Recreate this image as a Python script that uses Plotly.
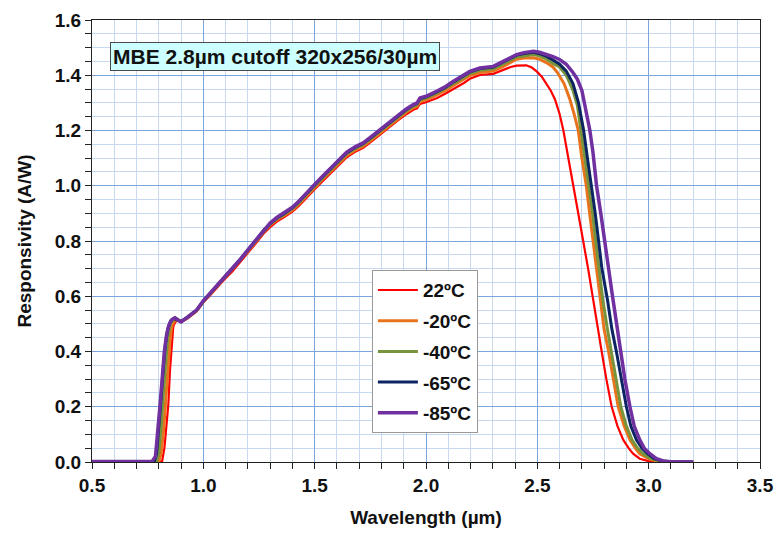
import plotly.graph_objects as go

# ---------------- data ----------------
series_names = ["22ºC", "-20ºC", "-40ºC", "-65ºC", "-85ºC"]
series_colors = ["#ff0000", "#e8731c", "#77933c", "#0c2461", "#7030a0"]

mid_wl = [0.93, 0.97, 1.00, 1.03, 1.06, 1.09, 1.13, 1.165, 1.20, 1.24, 1.27, 1.30, 1.33, 1.36,
          1.40, 1.43, 1.46, 1.50, 1.53, 1.57, 1.61, 1.644, 1.68, 1.718, 1.75, 1.793, 1.83,
          1.868, 1.91, 1.943, 1.96, 1.973, 2.00, 2.05, 2.09, 2.123, 2.17, 2.197, 2.242,
          2.302, 2.347, 2.38]

# 22ºC
wl_22 = [0.50, 0.60, 0.70, 0.80, 0.815, 0.825, 0.833, 0.843, 0.85, 0.858, 0.865, 0.875, 0.888, 0.90] + mid_wl + \
        [2.407, 2.45, 2.475, 2.497, 2.52, 2.542, 2.56, 2.579, 2.60, 2.617, 2.64, 2.661, 2.684, 2.706,
         2.728, 2.75, 2.77, 2.789, 2.81, 2.834, 2.86, 2.886, 2.91, 2.93, 2.96, 3.00, 3.05, 3.20]
r_22 = [0.002, 0.002, 0.0, 0.0, 0.003, 0.05, 0.12, 0.21, 0.33, 0.44, 0.49, 0.508, 0.512, 0.506] + \
       [0.52, 0.545, 0.578, 0.603, 0.632, 0.657, 0.69, 0.722, 0.757, 0.795, 0.826, 0.85, 0.87, 0.885,
        0.906, 0.928, 0.955, 0.987, 1.012, 1.043, 1.076, 1.103, 1.122, 1.137, 1.157, 1.185, 1.21,
        1.233, 1.258, 1.275, 1.28, 1.296, 1.302, 1.318, 1.335, 1.35, 1.372, 1.387, 1.401,
        1.405, 1.42, 1.43] + \
       [1.435, 1.436, 1.428, 1.414, 1.395, 1.37, 1.345, 1.313, 1.26, 1.20, 1.10, 1.00, 0.90, 0.80,
        0.70, 0.587, 0.49, 0.40, 0.30, 0.20, 0.13, 0.08, 0.05, 0.03, 0.012, 0.003, 0.001, 0.0]

# -20ºC
wl_m20 = [0.50, 0.60, 0.70, 0.80, 0.81, 0.82, 0.83, 0.84, 0.85, 0.858, 0.87, 0.885, 0.90] + mid_wl + \
         [2.407, 2.44, 2.482, 2.51, 2.542, 2.57, 2.59, 2.62, 2.646, 2.665, 2.684, 2.70, 2.72, 2.735,
          2.75, 2.765, 2.782, 2.80, 2.82, 2.842, 2.863, 2.89, 2.916, 2.94, 2.96, 3.00, 3.035, 3.10, 3.20]
r_m20 = [0.002, 0.002, 0.0, 0.002, 0.03, 0.10, 0.21, 0.33, 0.44, 0.49, 0.512, 0.515, 0.507] + \
        [0.523, 0.548, 0.58, 0.607, 0.636, 0.661, 0.696, 0.728, 0.763, 0.802, 0.833, 0.858, 0.877, 0.891,
         0.912, 0.934, 0.961, 0.994, 1.019, 1.05, 1.083, 1.11, 1.128, 1.143, 1.163, 1.191, 1.216,
         1.239, 1.265, 1.282, 1.288, 1.305, 1.311, 1.33, 1.346, 1.363, 1.385, 1.399, 1.41,
         1.415, 1.432, 1.447] + \
        [1.458, 1.462, 1.463, 1.458, 1.445, 1.43, 1.41, 1.37, 1.313, 1.26, 1.20, 1.10, 1.00, 0.90,
         0.80, 0.70, 0.587, 0.48, 0.40, 0.30, 0.20, 0.13, 0.08, 0.05, 0.03, 0.012, 0.003, 0.001, 0.0]

# -40ºC
wl_m40 = [0.50, 0.60, 0.70, 0.79, 0.80, 0.81, 0.82, 0.83, 0.84, 0.852, 0.866, 0.88, 0.893, 0.90] + mid_wl + \
         [2.407, 2.44, 2.482, 2.51, 2.542, 2.57, 2.60, 2.63, 2.66, 2.68, 2.696, 2.713, 2.732, 2.748,
          2.762, 2.778, 2.794, 2.815, 2.832, 2.855, 2.875, 2.90, 2.925, 2.95, 2.975, 3.01, 3.05, 3.10, 3.20]
r_m40 = [0.002, 0.002, 0.0, 0.002, 0.03, 0.12, 0.24, 0.36, 0.45, 0.50, 0.517, 0.518, 0.511, 0.508] + \
        [0.524, 0.549, 0.582, 0.609, 0.638, 0.663, 0.698, 0.731, 0.766, 0.805, 0.836, 0.861, 0.881, 0.895,
         0.917, 0.939, 0.966, 0.999, 1.024, 1.056, 1.089, 1.116, 1.134, 1.149, 1.169, 1.197, 1.222,
         1.245, 1.271, 1.288, 1.294, 1.311, 1.317, 1.336, 1.353, 1.37, 1.392, 1.406, 1.418,
         1.423, 1.441, 1.456] + \
        [1.466, 1.47, 1.475, 1.47, 1.458, 1.443, 1.43, 1.40, 1.345, 1.29, 1.20, 1.10, 1.00, 0.90,
         0.80, 0.70, 0.587, 0.48, 0.40, 0.30, 0.20, 0.13, 0.08, 0.05, 0.03, 0.012, 0.004, 0.001, 0.0]

# -65ºC
wl_m65 = [0.50, 0.60, 0.70, 0.78, 0.79, 0.80, 0.81, 0.82, 0.83, 0.84, 0.852, 0.868, 0.885, 0.90] + mid_wl + \
         [2.407, 2.44, 2.482, 2.51, 2.542, 2.57, 2.60, 2.63, 2.66, 2.685, 2.708, 2.725, 2.744, 2.76,
          2.775, 2.79, 2.815, 2.835, 2.855, 2.878, 2.90, 2.92, 2.945, 2.97, 2.995, 3.025, 3.06, 3.10, 3.20]
r_m65 = [0.002, 0.002, 0.0, 0.002, 0.03, 0.12, 0.23, 0.34, 0.43, 0.48, 0.51, 0.52, 0.514, 0.508] + \
        [0.525, 0.55, 0.583, 0.61, 0.639, 0.664, 0.699, 0.732, 0.767, 0.807, 0.838, 0.863, 0.883, 0.898,
         0.92, 0.943, 0.97, 1.003, 1.028, 1.06, 1.093, 1.12, 1.138, 1.153, 1.173, 1.201, 1.226,
         1.249, 1.275, 1.292, 1.298, 1.316, 1.322, 1.341, 1.358, 1.376, 1.398, 1.412, 1.424,
         1.43, 1.448, 1.463] + \
        [1.473, 1.479, 1.483, 1.478, 1.468, 1.455, 1.44, 1.415, 1.37, 1.30, 1.20, 1.10, 1.00, 0.90,
         0.80, 0.70, 0.587, 0.48, 0.40, 0.30, 0.20, 0.13, 0.08, 0.05, 0.03, 0.012, 0.004, 0.001, 0.0]

# -85ºC
wl_m85 = [0.50, 0.60, 0.70, 0.77, 0.785, 0.795, 0.805, 0.815, 0.825, 0.835, 0.845, 0.858, 0.873, 0.888, 0.90] + mid_wl + \
         [2.407, 2.44, 2.482, 2.51, 2.542, 2.57, 2.60, 2.63, 2.66, 2.68, 2.70, 2.72, 2.736, 2.75,
          2.766, 2.785, 2.804, 2.82, 2.834, 2.848, 2.87, 2.893, 2.916, 2.935, 2.96, 2.98, 3.005,
          3.035, 3.066, 3.10, 3.20]
r_m85 = [0.002, 0.002, 0.0, 0.002, 0.02, 0.10, 0.20, 0.30, 0.40, 0.46, 0.495, 0.515, 0.522, 0.513, 0.508] + \
        [0.525, 0.55, 0.583, 0.61, 0.64, 0.665, 0.70, 0.733, 0.768, 0.808, 0.84, 0.865, 0.885, 0.90,
         0.922, 0.945, 0.972, 1.005, 1.03, 1.062, 1.095, 1.122, 1.14, 1.155, 1.175, 1.203, 1.228,
         1.251, 1.277, 1.294, 1.30, 1.318, 1.324, 1.343, 1.36, 1.378, 1.40, 1.414, 1.426,
         1.432, 1.45, 1.465] + \
        [1.475, 1.482, 1.487, 1.483, 1.475, 1.467, 1.457, 1.44, 1.41, 1.385, 1.345, 1.27, 1.20, 1.12,
         1.00, 0.90, 0.80, 0.70, 0.62, 0.54, 0.41, 0.30, 0.20, 0.13, 0.08, 0.05, 0.03,
         0.012, 0.004, 0.001, 0.0]

series_wl = [wl_22, wl_m20, wl_m40, wl_m65, wl_m85]
series_r = [r_22, r_m20, r_m40, r_m65, r_m85]
series_widths = [2.2, 3, 3, 3, 3.5]

x_ticks = [0.5, 1.0, 1.5, 2.0, 2.5, 3.0, 3.5]
y_ticks = [0.0, 0.2, 0.4, 0.6, 0.8, 1.0, 1.2, 1.4, 1.6]

title_text = "MBE 2.8µm cutoff 320x256/30µm"
x_title = "Wavelength (µm)"
y_title = "Responsivity (A/W)"

# ---------------- figure ----------------
FONT = "Liberation Sans, Arial, sans-serif"
fig = go.Figure()
for i, (name, col, wl, r, w) in enumerate(zip(series_names, series_colors, series_wl, series_r, series_widths)):
    fig.add_trace(go.Scatter(x=wl, y=r, mode="lines", name=name, legendgroup=f"g{i}",
                             line=dict(color=col, width=w)))

axis_common = dict(
    showline=True, linecolor="#222222", linewidth=1.3, mirror=True,
    ticks="outside", ticklen=6, tickcolor="#222222",
    showgrid=True, gridcolor="#7aa6dc", gridwidth=1.3,
    zeroline=False, automargin=False,
    tickfont=dict(family=FONT, size=19, color="#111111", weight="bold"),
)
fig.update_xaxes(**axis_common, range=[0.5, 3.5], tickvals=x_ticks,
                 ticktext=[f"{v:.1f}" for v in x_ticks],
                 minor=dict(dtick=0.1, tick0=0.5, ticks="outside", ticklen=6, tickcolor="#222222",
                            showgrid=True, gridcolor="#c6d9f0", gridwidth=1.3),
                 title=dict(text=f"<b>{x_title}</b>", font=dict(family=FONT, size=19, color="#111111"),
                            standoff=15))
fig.update_yaxes(**axis_common, range=[0, 1.6], tickvals=y_ticks,
                 ticktext=[f"{v:.1f}" for v in y_ticks],
                 minor=dict(dtick=0.05, tick0=0, ticks="outside", ticklen=6, tickcolor="#222222",
                            showgrid=True, gridcolor="#c6d9f0", gridwidth=1.3),
                 title=dict(text=f"<b>{y_title}</b>", font=dict(family=FONT, size=19, color="#111111"),
                            standoff=17))

fig.add_annotation(
    text=f"<b>{title_text}</b>", xref="paper", yref="paper",
    x=0.027, y=0.95, xanchor="left", yanchor="top", showarrow=False,
    font=dict(family=FONT, size=21, color="#111111"),
    bgcolor="#ccffff", bordercolor="#4a4a4a", borderwidth=1, borderpad=2,
)

fig.update_layout(
    width=779, height=533,
    margin=dict(l=92, r=19, t=20, b=71),
    paper_bgcolor="white", plot_bgcolor="white",
    font=dict(family=FONT, color="#111111"),
    legend=dict(x=0.419, y=0.434, xanchor="left", yanchor="top",
                bgcolor="white", bordercolor="#999999", borderwidth=1,
                font=dict(family=FONT, size=19, color="#111111", weight="bold"),
                tracegroupgap=3, itemwidth=40),
    showlegend=True,
)

fig.write_html("out.html")
